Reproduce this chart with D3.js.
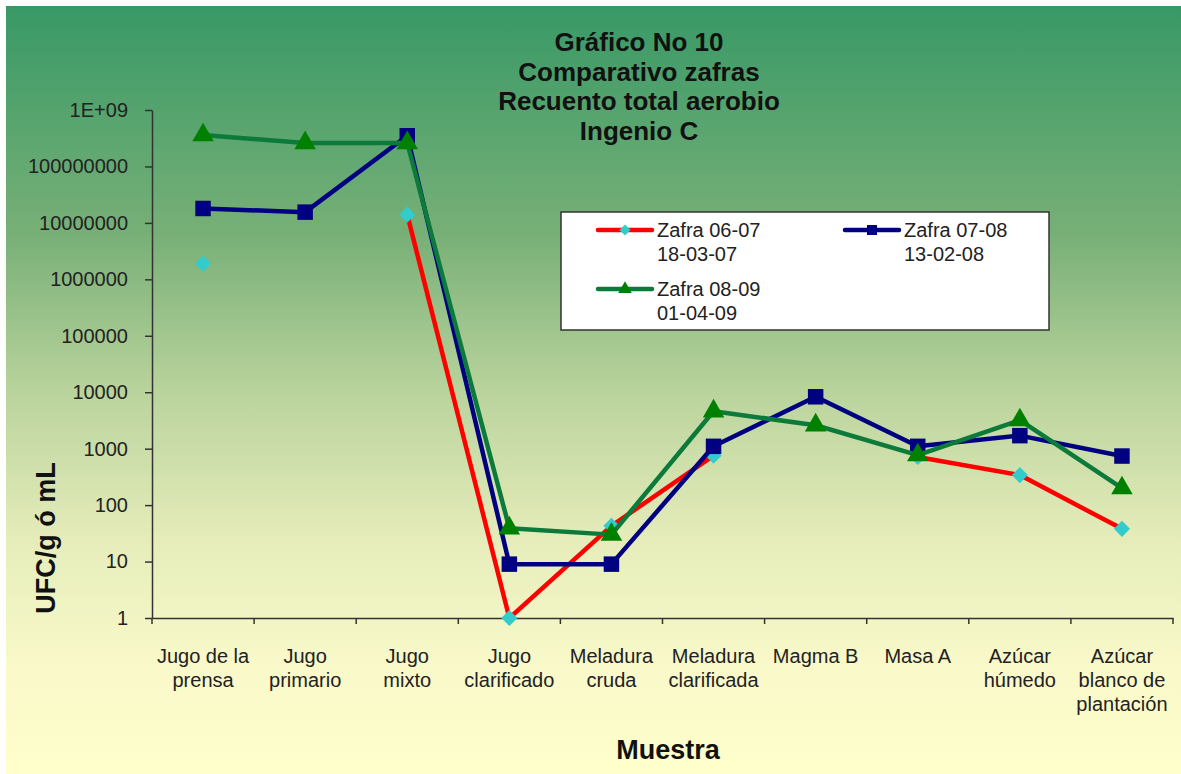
<!DOCTYPE html>
<html>
<head>
<meta charset="utf-8">
<script src="https://cdn.jsdelivr.net/npm/d3@7"></script>
<style>
  body { margin: 0; background: #fff; }
  text { font-family: "Liberation Sans", Arial, sans-serif; }
</style>
</head>
<body>
<script>
// data
var categories = ["Jugo de la prensa", "Jugo primario", "Jugo mixto", "Jugo clarificado",
                  "Meladura cruda", "Meladura clarificada", "Magma B", "Masa A",
                  "Azúcar húmedo", "Azúcar blanco de plantación"]
var catLabels = [["Jugo de la", "prensa"], ["Jugo", "primario"], ["Jugo", "mixto"],
                 ["Jugo", "clarificado"], ["Meladura", "cruda"], ["Meladura", "clarificada"],
                 ["Magma B"], ["Masa A"], ["Azúcar", "húmedo"], ["Azúcar", "blanco de", "plantación"]]
var zafra0607 = [1900000, null, 14000000, 1, 43, 750, null, 710, 340, 38]
var zafra0708 = [18000000, 15500000, 350000000, 9, 9, 1100, 8300, 1100, 1700, 740]
var zafra0809 = [360000000, 260000000, 260000000, 39, 30, 4600, 2600, 770, 3200, 200]
var yTicks = [1, 10, 100, 1000, 10000, 100000, 1000000, 10000000, 100000000, 1000000000]
var titleLines = ["Gráfico No 10", "Comparativo zafras", "Recuento total aerobio", "Ingenio C"]

svg_w = 1181
svg_h = 774
var svg = d3.select("body").append("svg")
    .attr("width", svg_w).attr("height", svg_h)

// background gradient
var defs = svg.append("defs")
var grad = defs.append("linearGradient").attr("id", "bg")
    .attr("x1", 0).attr("y1", 0).attr("x2", 0).attr("y2", 1)
var stops = [[0, "#389966"], [0.3, "#78b077"], [0.5, "#b9d39c"], [0.7, "#e6edbb"], [0.85, "#f8f8c9"], [1, "#ffffcc"]]
stops.forEach(s => grad.append("stop").attr("offset", s[0]).attr("stop-color", s[1]))
svg.append("rect").attr("x", 6).attr("y", 6).attr("width", svg_w - 6).attr("height", svg_h - 6)
    .attr("fill", "url(#bg)")

var x0 = 152, x1 = 1173
var xscale = d3.scaleBand().domain(categories).range([x0, x1])
var yscale = d3.scaleLog().domain([1, 1e9]).range([618, 110])
var cx = d => xscale(d) + xscale.bandwidth() / 2

// title
svg.append("g").selectAll("text").data(titleLines).enter().append("text")
    .attr("x", 639).attr("y", (d, i) => 51 + i * 29.5)
    .attr("text-anchor", "middle").attr("font-size", 26).attr("font-weight", "bold")
    .attr("fill", "#111").text(d => d)

// y axis
var yAxis = d3.axisLeft(yscale).tickValues(yTicks).tickSize(7).tickSizeOuter(0)
    .tickFormat(d => d == 1e9 ? "1E+09" : d3.format("d")(d))
var gy = svg.append("g").attr("transform", "translate(" + x0 + ",0)").call(yAxis)
gy.select(".domain").attr("stroke", "#333").attr("stroke-width", 1.5)
gy.selectAll(".tick line").attr("stroke", "#333").attr("stroke-width", 1.5)
gy.selectAll(".tick text").attr("font-size", 20).attr("fill", "#222")
    .attr("font-family", "Liberation Sans, Arial, sans-serif").attr("x", -24)

// x axis
var xAxis = d3.axisBottom(xscale).tickSize(0).tickFormat("")
var gx = svg.append("g").attr("transform", "translate(0,618)").call(xAxis)
gx.select(".domain").attr("stroke", "#333").attr("stroke-width", 1.5)
var xt = d3.range(categories.length + 1).map(i => x0 + i * xscale.bandwidth())
svg.append("g").selectAll("line").data(xt).enter().append("line")
    .attr("x1", d => d).attr("x2", d => d).attr("y1", 618).attr("y2", 624)
    .attr("stroke", "#333").attr("stroke-width", 1.5)

svg.append("g").selectAll("text").data(categories).enter().append("text")
    .attr("x", d => cx(d)).attr("y", 663)
    .attr("text-anchor", "middle").attr("font-size", 20).attr("fill", "#222")
    .each(function (d, i) {
        catLabels[i].forEach((l, j) => {
            d3.select(this).append("tspan").attr("x", cx(d)).attr("dy", j == 0 ? 0 : 24).text(l)
        })
    })

// axis titles
svg.append("text").attr("x", 668).attr("y", 759).attr("text-anchor", "middle")
    .attr("font-size", 27).attr("font-weight", "bold").attr("fill", "#111").text("Muestra")
svg.append("text").attr("transform", "translate(55,538) rotate(-90)").attr("text-anchor", "middle")
    .attr("font-size", 27).attr("font-weight", "bold").attr("fill", "#111").text("UFC/g ó mL")

// series
var series = [
    {name: "Zafra 06-07", date: "18-03-07", values: zafra0607, line: "#ff0000", mark: "#33cccc", shape: "diamond"},
    {name: "Zafra 07-08", date: "13-02-08", values: zafra0708, line: "#000080", mark: "#000080", shape: "square"},
    {name: "Zafra 08-09", date: "01-04-09", values: zafra0809, line: "#0b7a3a", mark: "#008000", shape: "triangle"}
]
var symSize = {diamond: 130, square: 240, triangle: 200}

var line = d3.line().defined(d => d.v != null).x(d => cx(d.c)).y(d => yscale(d.v))

// draw 06-07 first, then 07-08, 08-09 on top
series.forEach(s => {
    var pts = categories.map((c, i) => ({c: c, v: s.values[i]}))
    svg.append("path").datum(pts).attr("d", line)
        .attr("fill", "none").attr("stroke", s.line).attr("stroke-width", 4.5)
        .attr("stroke-linejoin", "round")
    svg.append("g").selectAll("path").data(pts.filter(d => d.v != null)).enter().append("path")
        .attr("d", d3.symbol().type(s.shape == "triangle" ? d3.symbolTriangle : d3.symbolSquare).size(symSize[s.shape])())
        .attr("transform", d => "translate(" + cx(d.c) + "," + yscale(d.v) + ")" + (s.shape == "diamond" ? " rotate(45)" : ""))
        .attr("fill", s.mark)
})

// legend
var lg = svg.append("g").attr("transform", "translate(561,212)")
lg.append("rect").attr("width", 488).attr("height", 118).attr("fill", "#fff")
    .attr("stroke", "#333").attr("stroke-width", 1.5)
var lpos = [[37, 18], [284, 18], [37, 77]]
series.forEach((s, i) => {
    var g = lg.append("g").attr("transform", "translate(" + lpos[i][0] + "," + lpos[i][1] + ")")
    g.append("line").attr("x1", 0).attr("x2", 54).attr("y1", 0).attr("y2", 0)
        .attr("stroke", s.line).attr("stroke-width", 4.5).attr("stroke-linecap", "round")
    g.append("path")
        .attr("d", d3.symbol().type(s.shape == "triangle" ? d3.symbolTriangle : d3.symbolSquare)
              .size(s.shape == "diamond" ? 60 : s.shape == "square" ? 100 : 80)())
        .attr("transform", "translate(27,0)" + (s.shape == "diamond" ? " rotate(45)" : ""))
        .attr("fill", s.mark)
    g.append("text").attr("x", 59).attr("y", 7).attr("font-size", 20).attr("fill", "#222").text(s.name)
    g.append("text").attr("x", 59).attr("y", 31).attr("font-size", 20).attr("fill", "#222").text(s.date)
})
</script>
</body>
</html>
